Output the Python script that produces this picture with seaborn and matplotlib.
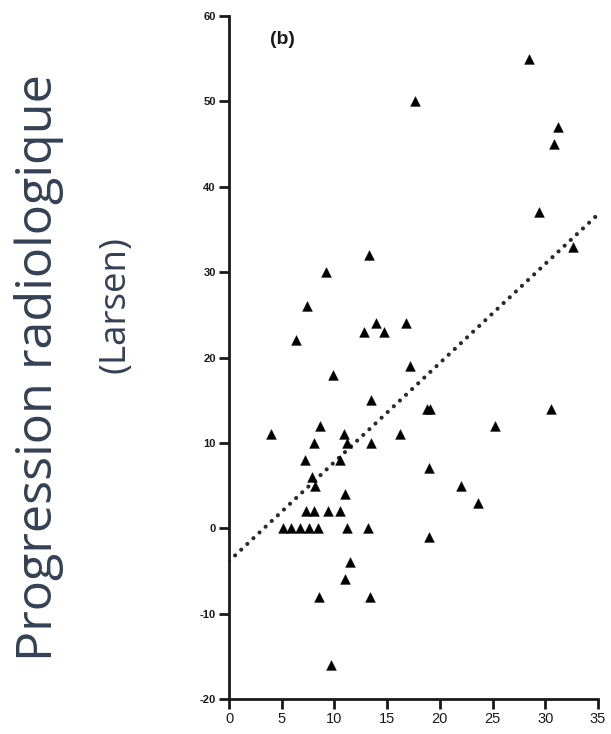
import matplotlib
matplotlib.use("Agg")
import matplotlib.pyplot as plt
import numpy as np
import pandas as pd
import seaborn as sns

# Disease-activity score (x) versus radiographic progression (Larsen score, y)
das_score = [
    4.0, 8.6, 8.1, 10.9, 11.2, 13.5, 16.2, 13.5,
    7.2, 10.5, 7.9, 8.2, 11.0,
    7.35, 8.05, 9.4, 10.5,
    5.1, 5.9, 6.7, 7.6, 8.4, 11.2, 13.2,
    11.5, 11.0, 8.5, 13.4, 9.7,
    13.3, 9.2, 7.4, 13.9, 12.8, 14.7, 16.8, 6.4, 9.9, 17.2, 18.8, 19.1,
    28.5, 17.6, 31.2, 30.8, 29.4, 32.6, 30.5, 25.2, 19.0, 22.0, 23.6, 19.0,
]
larsen_progression = [
    11, 12, 10, 11, 10, 10, 11, 15,
    8, 8, 6, 5, 4,
    2, 2, 2, 2,
    0, 0, 0, 0, 0, 0, 0,
    -4, -6, -8, -8, -16,
    32, 30, 26, 24, 23, 23, 24, 22, 18, 19, 14, 14,
    55, 50, 47, 45, 37, 33, 14, 12, 7, 5, 3, -1,
]
x_ticks = [0, 5, 10, 15, 20, 25, 30, 35]
y_ticks = [-20, -10, 0, 10, 20, 30, 40, 50, 60]
panel_label = "(b)"
ylabel_line1 = "Progression radiologique"
ylabel_line2 = "(Larsen)"

df = pd.DataFrame({"das": das_score, "larsen": larsen_progression})

sns.set_theme(style="ticks")
plt.rcParams["font.family"] = ["Liberation Sans", "DejaVu Sans"]
plt.rcParams["axes.unicode_minus"] = False

W, H = 611, 734
fig = plt.figure(figsize=(W / 100, H / 100), dpi=100)
fig.patch.set_facecolor("white")
ax = fig.add_axes([229 / W, 1 - 699 / H, (598 - 229) / W, (699 - 16) / H])
ax.set_xlim(0, 35)
ax.set_ylim(-20, 60)

# Linear fit drawn across the whole x range as a dotted line
sns.regplot(
    data=df, x="das", y="larsen", ax=ax, scatter=False, ci=None, truncate=False,
    line_kws=dict(color="#2a2a2a", lw=3.0, linestyle=(0, (0.01, 2.0)),
                  dash_capstyle="round"),
)
sns.scatterplot(
    data=df, x="das", y="larsen", ax=ax, marker="^", s=50,
    color="black", edgecolor="black", linewidth=0.3, zorder=3,
)

ax.set_xlim(0, 35)
ax.set_ylim(-20, 60)
ax.set_xticks(x_ticks)
ax.set_yticks(y_ticks)
ax.set_xticklabels([str(v) for v in x_ticks], fontsize=10.5, color="#1a1a1a")
ax.set_yticklabels([str(v) for v in y_ticks], fontsize=8, fontweight="bold",
                   color="#1a1a1a")
ax.set_xlabel("")
ax.set_ylabel("")
for side in ("top", "right"):
    ax.spines[side].set_visible(False)
for side in ("left", "bottom"):
    ax.spines[side].set_linewidth(2.0)
    ax.spines[side].set_color("#1a1a1a")
ax.tick_params(axis="both", direction="out", length=7.5, width=2.0, color="#1a1a1a")
ax.tick_params(axis="x", pad=2)
ax.tick_params(axis="y", pad=2)

ax.text(0.1436, 0.966, panel_label, transform=ax.transAxes, fontsize=14,
        fontweight="bold", ha="center", va="center", color="#1a1a1a")

label_color = "#344154"
fig.text(39 / W, 1 - 368 / H, ylabel_line1, rotation=90, ha="center",
         va="center", fontsize=36.3, color=label_color, family="Open Sans")
fig.text(115 / W, 1 - 305 / H, ylabel_line2, rotation=90, ha="center",
         va="center", fontsize=26.5, color=label_color, family="Open Sans")

fig.savefig("out.png", dpi=100, facecolor="white")
